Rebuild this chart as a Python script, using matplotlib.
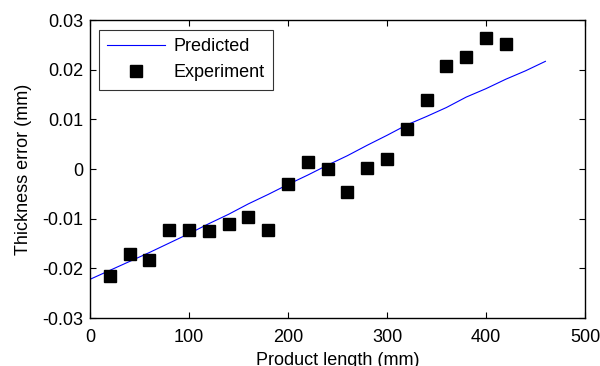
import numpy as np
import matplotlib.pyplot as plt

plt.rcParams["font.family"] = ["Liberation Sans", "DejaVu Sans"]

# experiment points
exp_x = [20, 40, 60, 80, 100, 120, 140, 160, 180, 200, 220,
         240, 260, 280, 300, 320, 340, 360, 380, 400, 420]
exp_y = [-0.0215, -0.0171, -0.0183, -0.0122, -0.0122, -0.0124, -0.0110,
         -0.0096, -0.0122, -0.0031, 0.0015, 0.0000, -0.0046, 0.0003,
         0.0020, 0.0080, 0.0140, 0.0208, 0.0225, 0.0265, 0.0251]

# predicted curve
pred_x = [0, 20, 40, 60, 80, 100, 120, 140, 160, 180, 200, 220,
          240, 260, 280, 300, 320, 340, 360, 380, 400, 420, 440, 460]
pred_y = [-0.0222, -0.0204, -0.0186, -0.0168, -0.0149, -0.0130, -0.0110,
          -0.0091, -0.0070, -0.0051, -0.0031, -0.0012, 0.0008, 0.0027,
          0.0048, 0.0068, 0.0089, 0.0106, 0.0124, 0.0145, 0.0162, 0.0181,
          0.0198, 0.0217]

fs = 13

fig = plt.figure(figsize=(6, 3.66), dpi=100)
ax = fig.add_axes([0.15, 0.131, 0.825, 0.814])

ax.plot(pred_x, pred_y, color="#0000ff", linewidth=0.8, label="Predicted")
ax.plot(exp_x, exp_y, linestyle="none", marker="s", markersize=8.7,
        color="black", label="Experiment")

ax.set_xlim(0, 500)
ax.set_ylim(-0.03, 0.03)
ax.set_xticks([0, 100, 200, 300, 400, 500])
ax.set_yticks([-0.03, -0.02, -0.01, 0, 0.01, 0.02, 0.03])
ax.set_yticklabels(["-0.03", "-0.02", "-0.01", "0", "0.01", "0.02", "0.03"])
ax.tick_params(direction="in", top=True, right=True, length=4, width=0.8,
               labelsize=fs)
ax.tick_params(axis="x", pad=8)
ax.tick_params(axis="y", pad=5)
for s in ax.spines.values():
    s.set_linewidth(1.0)

ax.set_xlabel("Product length (mm)", fontsize=fs, labelpad=4)
ax.set_ylabel("Thickness error (mm)", fontsize=fs, labelpad=7)

leg = ax.legend(loc="upper left", fontsize=fs, frameon=True, fancybox=False,
                edgecolor="black", borderpad=0.45, handlelength=3.2,
                handletextpad=0.5, labelspacing=0.5, borderaxespad=0,
                bbox_to_anchor=(0.018, 0.966))
leg.get_frame().set_linewidth(0.8)

fig.savefig("out.png", dpi=100)
